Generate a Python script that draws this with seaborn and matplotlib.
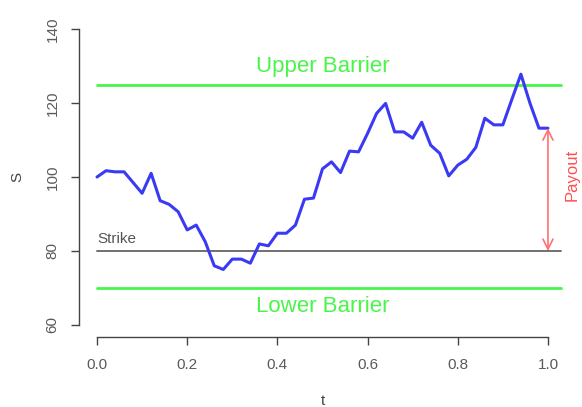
import numpy as np
import pandas as pd
import matplotlib
matplotlib.use("Agg")
import matplotlib.pyplot as plt
import seaborn as sns

# ---- data ----
t_values = [0.00, 0.02, 0.04, 0.06, 0.08, 0.10, 0.12, 0.14, 0.16, 0.18,
            0.20, 0.22, 0.24, 0.26, 0.28, 0.30, 0.32, 0.34, 0.36, 0.38,
            0.40, 0.42, 0.44, 0.46, 0.48, 0.50, 0.52, 0.54, 0.56, 0.58,
            0.60, 0.62, 0.64, 0.66, 0.68, 0.70, 0.72, 0.74, 0.76, 0.78,
            0.80, 0.82, 0.84, 0.86, 0.88, 0.90, 0.92, 0.94, 0.96, 0.98, 1.00]
s_values = [100.0, 101.7, 101.4, 101.4, 98.5, 95.6, 101.0, 93.6, 92.6, 90.6,
            85.7, 87.0, 82.5, 76.0, 75.0, 77.8, 77.8, 76.7, 81.9, 81.4,
            84.8, 84.8, 87.0, 94.0, 94.3, 102.2, 104.1, 101.2, 107.0, 106.8,
            111.8, 117.2, 119.9, 112.2, 112.2, 110.5, 114.8, 108.6, 106.4, 100.3,
            103.2, 104.8, 108.0, 115.9, 114.1, 114.1, 121.0, 127.8, 120.0, 113.2, 113.2]
upper_barrier = 125
lower_barrier = 70
strike = 80
x_ticks = [0.0, 0.2, 0.4, 0.6, 0.8, 1.0]
x_tick_labels = ["0.0", "0.2", "0.4", "0.6", "0.8", "1.0"]
y_ticks = [60, 80, 100, 120, 140]
y_tick_labels = ["60", "80", "100", "120", "140"]

df = pd.DataFrame({"t": t_values, "S": s_values})

sns.set_theme(style="white")
plt.rcParams["font.family"] = ["Liberation Sans", "DejaVu Sans"]

fig = plt.figure(figsize=(5.82, 4.07), dpi=100)
ax = fig.add_axes([0.1357, 0.1725, 0.9725 - 0.1357, 0.9577 - 0.1725])

green = "#48f548"
line_end = 1.03

ax.plot([0, line_end], [upper_barrier, upper_barrier], color=green, lw=2, clip_on=False)
ax.plot([0, line_end], [lower_barrier, lower_barrier], color=green, lw=2, clip_on=False)
ax.plot([0, line_end], [strike, strike], color="#707070", lw=1.4, clip_on=False)

sns.lineplot(data=df, x="t", y="S", ax=ax, color="#3a3af5", lw=2.2)

ax.text(0.5, 130, "Upper Barrier", color=green, fontsize=16, ha="center", va="center")
ax.text(0.5, 65, "Lower Barrier", color=green, fontsize=16, ha="center", va="center")
ax.text(0.0, 83.3, "Strike", color="#555555", fontsize=11, ha="left", va="center")

ax.annotate("", xy=(1.0, strike), xytext=(1.0, s_values[-1]),
            arrowprops=dict(arrowstyle="<->", color="#ff7070", lw=1.2,
                            mutation_scale=18, shrinkA=0, shrinkB=0),
            annotation_clip=False)
ax.text(1.054, 100.5, "Payout", color="#ff5050", fontsize=12, rotation=90,
        ha="center", va="center", clip_on=False)

ax.set_xlim(-0.04, 1.04)
ax.set_ylim(56.8, 143.2)
ax.set_xticks(x_ticks)
ax.set_xticklabels(x_tick_labels)
ax.set_yticks(y_ticks)
ax.set_yticklabels(y_tick_labels, rotation=90, va="center")
ax.tick_params(axis="both", direction="out", length=6, width=1, color="#444444",
               labelcolor="#5a5a5a", labelsize=11, bottom=True, left=True)
ax.tick_params(axis="x", pad=9)
ax.tick_params(axis="y", pad=8)

for side in ["top", "right"]:
    ax.spines[side].set_visible(False)
for side in ["left", "bottom"]:
    ax.spines[side].set_color("#444444")
    ax.spines[side].set_linewidth(1)
ax.spines["left"].set_bounds(60, 140)
ax.spines["bottom"].set_bounds(0, 1)

ax.set_xlabel("t", color="#444444", fontsize=11, labelpad=16)
ax.set_ylabel("S", color="#444444", fontsize=11, labelpad=15)

fig.savefig("out.png", dpi=100)
